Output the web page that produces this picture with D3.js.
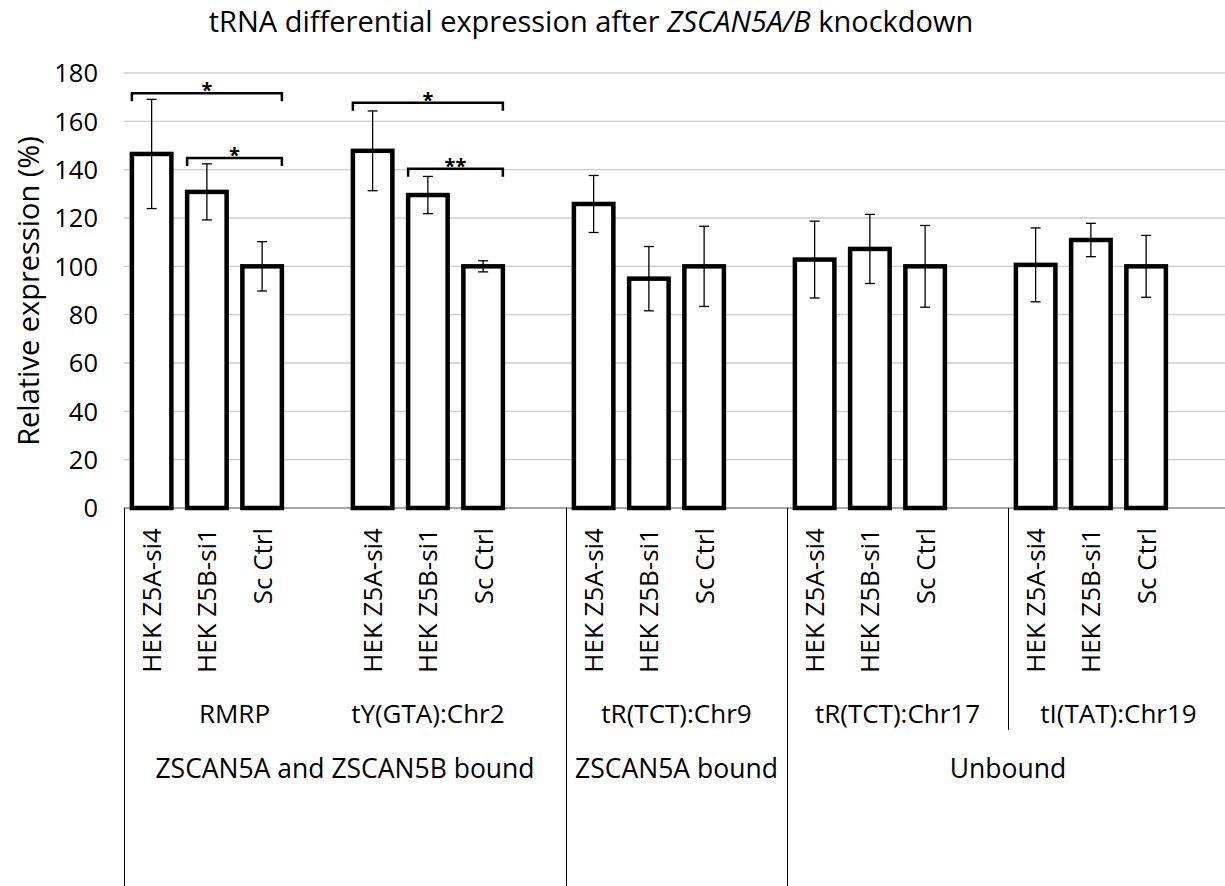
<!DOCTYPE html>
<html>
<head>
<meta charset="utf-8">
<script src="https://cdn.jsdelivr.net/npm/d3@7"></script>
<style>
  body { margin: 0; background: #fff; }
  svg { font-family: "Open Sans", "Noto Sans", sans-serif; }
</style>
</head>
<body>
<script>
// ---- data ----
const samples = ["HEK Z5A-si4", "HEK Z5B-si1", "Sc Ctrl"];
const genes = ["RMRP", "tY(GTA):Chr2", "tR(TCT):Chr9", "tR(TCT):Chr17", "tI(TAT):Chr19"];
const bindGroups = ["ZSCAN5A and ZSCAN5B bound", "ZSCAN5A bound", "Unbound"];
const geneGroup = [0, 0, 1, 2, 2];

const expr = [
  [146.5, 130.8, 100],
  [147.8, 129.5, 100],
  [125.8, 94.9, 100],
  [102.8, 107.2, 100],
  [100.6, 110.9, 100]
];
const errs = [
  [22.6, 11.6, 10.2],
  [16.5, 7.7, 2.3],
  [11.8, 13.3, 16.6],
  [15.9, 14.3, 16.9],
  [15.3, 6.9, 12.8]
];
// significance brackets: gene, first sample, last sample, height, label
const sigGene = [0, 0, 1, 1];
const sigFrom = [0, 1, 0, 1];
const sigTo = [2, 2, 2, 2];
const sigLevel = [171.6, 144.8, 167.7, 140.4];
const sigText = ["*", "*", "*", "**"];

const yTicks = [0, 20, 40, 60, 80, 100, 120, 140, 160, 180];

// ---- layout ----
const W = 1225, H = 886;
const plotLeft = 124, plotRight = 1229, plotTop = 73, base = 508;

const svg = d3.select("body").append("svg")
    .attr("width", W)
    .attr("height", H);

// one slot per bar, plus one empty slot after each gene
let slots = [];
genes.forEach((g, gi) => {
  samples.forEach((s, si) => slots.push(gi + "-" + si));
  slots.push(gi + "-blank");
});

const x = d3.scaleBand().domain(slots).range([plotLeft, plotRight]);
const y = d3.scaleLinear().domain([0, 180]).range([base, plotTop]);
const bw = 39.5;
const cx = (gi, si) => x(gi + "-" + si) + x.bandwidth() / 2;

// title
const title = svg.append("text")
    .attr("x", 591)
    .attr("y", 32)
    .attr("text-anchor", "middle")
    .style("font-size", "29px")
    .attr("fill", "#000");
title.append("tspan").text("tRNA differential expression after ");
title.append("tspan").style("font-style", "italic").text("ZSCAN5A/B");
title.append("tspan").text(" knockdown");

// gridlines
svg.append("g")
  .selectAll("line")
  .data(yTicks.slice(1))
  .enter()
  .append("line")
    .attr("x1", plotLeft)
    .attr("x2", W)
    .attr("y1", d => y(d))
    .attr("y2", d => y(d))
    .attr("stroke", "#cccccc")
    .attr("stroke-width", 1.3);

// y axis labels
svg.append("g")
  .selectAll("text")
  .data(yTicks)
  .enter()
  .append("text")
    .attr("x", 98)
    .attr("y", d => y(d))
    .attr("dy", "0.36em")
    .attr("text-anchor", "end")
    .style("font-size", "25.5px")
    .text(d => d);

svg.append("text")
    .attr("transform", "translate(39,291) rotate(-90)")
    .attr("text-anchor", "middle")
    .style("font-size", "29px")
    .text("Relative expression (%)");

// baseline
svg.append("line")
    .attr("x1", plotLeft).attr("x2", W)
    .attr("y1", base).attr("y2", base)
    .attr("stroke", "#888")
    .attr("stroke-width", 1.5);

// bars
const barData = [];
genes.forEach((g, gi) => samples.forEach((s, si) => {
  barData.push({gi: gi, si: si, v: expr[gi][si], e: errs[gi][si]});
}));

svg.append("g")
  .selectAll("rect")
  .data(barData)
  .enter()
  .append("rect")
    .attr("x", d => cx(d.gi, d.si) - bw / 2)
    .attr("y", d => y(d.v))
    .attr("width", bw)
    .attr("height", d => base - y(d.v))
    .attr("fill", "#fff")
    .attr("stroke", "#000")
    .attr("stroke-width", 4.5);

// error bars
const eb = svg.append("g").attr("stroke", "#000").attr("stroke-width", 1.3);
eb.selectAll(".stem")
  .data(barData)
  .enter()
  .append("line")
    .attr("x1", d => cx(d.gi, d.si))
    .attr("x2", d => cx(d.gi, d.si))
    .attr("y1", d => y(d.v + d.e))
    .attr("y2", d => y(d.v - d.e));
[1, -1].forEach(sign => {
  eb.selectAll(".cap" + sign)
    .data(barData)
    .enter()
    .append("line")
      .attr("x1", d => cx(d.gi, d.si) - 5)
      .attr("x2", d => cx(d.gi, d.si) + 5)
      .attr("y1", d => y(d.v + sign * d.e))
      .attr("y2", d => y(d.v + sign * d.e));
});

// significance brackets
sigLevel.forEach((lv, i) => {
  const x1 = cx(sigGene[i], sigFrom[i]) - bw / 2;
  const x2 = cx(sigGene[i], sigTo[i]) + bw / 2;
  const yy = y(lv);
  svg.append("path")
      .attr("d", `M${x1},${yy + 8}V${yy}H${x2}V${yy + 8}`)
      .attr("fill", "none")
      .attr("stroke", "#000")
      .attr("stroke-width", 2.5);
  svg.append("text")
      .attr("x", (x1 + x2) / 2)
      .attr("y", yy + 4)
      .attr("text-anchor", "middle")
      .style("font-size", "20px")
      .style("font-weight", "bold")
      .text(sigText[i]);
});

// sample labels (rotated)
svg.append("g")
  .selectAll("text")
  .data(barData)
  .enter()
  .append("text")
    .attr("transform", d => `translate(${cx(d.gi, d.si) + 9.5},528) rotate(-90)`)
    .attr("text-anchor", "end")
    .style("font-size", "26px")
    .text(d => samples[d.si]);

// gene labels; tY label only spans its three bars
const geneSpan = [4, 3, 4, 4, 4];
svg.append("g")
  .selectAll("text")
  .data(genes)
  .enter()
  .append("text")
    .attr("x", (d, i) => x(i + "-0") + geneSpan[i] * x.bandwidth() / 2)
    .attr("y", 723)
    .attr("text-anchor", "middle")
    .style("font-size", "26px")
    .text(d => d);

// binding group labels
svg.append("g")
  .selectAll("text")
  .data(bindGroups)
  .enter()
  .append("text")
    .attr("x", (d, k) => {
      const gs = geneGroup.map((g, i) => g === k ? i : -1).filter(i => i >= 0);
      const x0 = x(gs[0] + "-0");
      const x1 = x(gs[gs.length - 1] + "-blank") + x.bandwidth();
      return (x0 + x1) / 2;
    })
    .attr("y", 778)
    .attr("text-anchor", "middle")
    .style("font-size", "26.5px")
    .text(d => d);

// category separators (half-pixel offset keeps them crisp)
const fullSep = [0, 2, 3];
const sepX = gi => Math.round(x(gi + "-0")) + 0.5;
svg.append("g")
  .selectAll("line")
  .data(fullSep)
  .enter()
  .append("line")
    .attr("x1", d => sepX(d))
    .attr("x2", d => sepX(d))
    .attr("y1", base)
    .attr("y2", H)
    .attr("stroke", "#000")
    .attr("stroke-width", 1);
svg.append("line")
    .attr("x1", sepX(4)).attr("x2", sepX(4))
    .attr("y1", base).attr("y2", 730)
    .attr("stroke", "#000")
    .attr("stroke-width", 1);
</script>
</body>
</html>
